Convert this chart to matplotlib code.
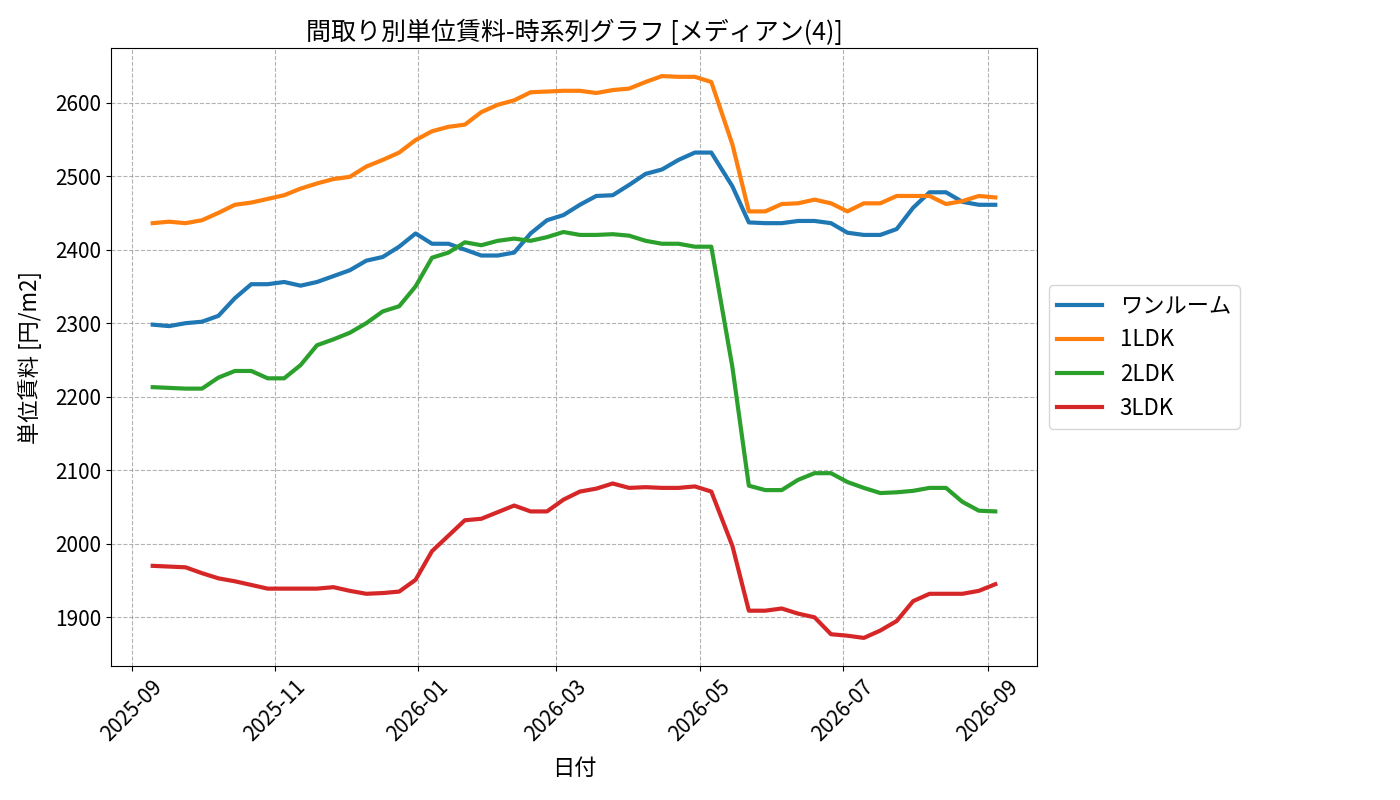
import pandas as pd
import matplotlib
matplotlib.use("Agg")
import matplotlib.pyplot as plt
import matplotlib.dates as mdates

plt.rcParams['font.family'] = ['Noto Sans CJK JP', 'DejaVu Sans']

dates = [
    '2025-09-10', '2025-09-17', '2025-09-24', '2025-10-01', '2025-10-08',
    '2025-10-15', '2025-10-22', '2025-10-29', '2025-11-05', '2025-11-12',
    '2025-11-19', '2025-11-26', '2025-12-03', '2025-12-10', '2025-12-17',
    '2025-12-24', '2025-12-31', '2026-01-07', '2026-01-14', '2026-01-21',
    '2026-01-28', '2026-02-04', '2026-02-11', '2026-02-18', '2026-02-25',
    '2026-03-04', '2026-03-11', '2026-03-18', '2026-03-25', '2026-04-01',
    '2026-04-08', '2026-04-15', '2026-04-22', '2026-04-29', '2026-05-06',
    '2026-05-15', '2026-05-22', '2026-05-29', '2026-06-05', '2026-06-12',
    '2026-06-19', '2026-06-26', '2026-07-03', '2026-07-10', '2026-07-17',
    '2026-07-24', '2026-07-31', '2026-08-07', '2026-08-14', '2026-08-21',
    '2026-08-28', '2026-09-04',
]

one_room = [2298, 2296, 2300, 2302, 2310, 2334, 2353, 2353, 2356, 2351,
            2356, 2364, 2372, 2385, 2390, 2404, 2422, 2408, 2408, 2400,
            2392, 2392, 2396, 2422, 2440, 2447, 2461, 2473, 2474, 2488,
            2503, 2509, 2522, 2532, 2532, 2486, 2437, 2436, 2436, 2439,
            2439, 2436, 2423, 2420, 2420, 2428, 2457, 2478, 2478, 2465,
            2461, 2461]
ldk1 = [2436, 2438, 2436, 2440, 2450, 2461, 2464, 2469, 2474, 2483,
        2490, 2496, 2499, 2513, 2522, 2532, 2549, 2561, 2567, 2570,
        2587, 2597, 2603, 2614, 2615, 2616, 2616, 2613, 2617, 2619,
        2628, 2636, 2635, 2635, 2628, 2543, 2452, 2452, 2462, 2463,
        2468, 2463, 2452, 2463, 2463, 2473, 2473, 2473, 2462, 2466,
        2473, 2471]
ldk2 = [2213, 2212, 2211, 2211, 2226, 2235, 2235, 2225, 2225, 2243,
        2270, 2278, 2287, 2300, 2316, 2323, 2350, 2389, 2396, 2410,
        2406, 2412, 2415, 2412, 2417, 2424, 2420, 2420, 2421, 2419,
        2412, 2408, 2408, 2404, 2404, 2240, 2079, 2073, 2073, 2087,
        2096, 2096, 2084, 2076, 2069, 2070, 2072, 2076, 2076, 2057,
        2045, 2044]
ldk3 = [1970, 1969, 1968, 1960, 1953, 1949, 1944, 1939, 1939, 1939,
        1939, 1941, 1936, 1932, 1933, 1935, 1951, 1990, 2011, 2032,
        2034, 2043, 2052, 2044, 2044, 2060, 2071, 2075, 2082, 2076,
        2077, 2076, 2076, 2078, 2071, 1997, 1909, 1909, 1912, 1905,
        1900, 1877, 1875, 1872, 1882, 1895, 1922, 1932, 1932, 1932,
        1936, 1945]

series = {'ワンルーム': one_room, '1LDK': ldk1, '2LDK': ldk2, '3LDK': ldk3}

x = pd.to_datetime(dates)

fig, ax = plt.subplots(figsize=(14, 8), dpi=100)
for name, vals in series.items():
    ax.plot(x, vals, linewidth=3, label=name)

ax.set_title('間取り別単位賃料-時系列グラフ [メディアン(4)]', fontsize=18)
ax.set_xlabel('日付', fontsize=16, labelpad=8)
ax.set_ylabel('単位賃料 [円/m2]', fontsize=16, labelpad=9)
ax.xaxis.set_major_locator(mdates.MonthLocator(bymonth=[1, 3, 5, 7, 9, 11]))
ax.xaxis.set_major_formatter(mdates.DateFormatter('%Y-%m'))
ax.tick_params(axis='both', labelsize=15)
plt.setp(ax.get_xticklabels(), rotation=45)
ax.grid(True, linestyle='--', color='gray', alpha=0.6)
ax.legend(loc='center left', bbox_to_anchor=(1.0, 0.5), fontsize=16)

plt.subplots_adjust(left=0.079, right=0.741, top=0.94, bottom=0.1675)
plt.savefig('out.png')
